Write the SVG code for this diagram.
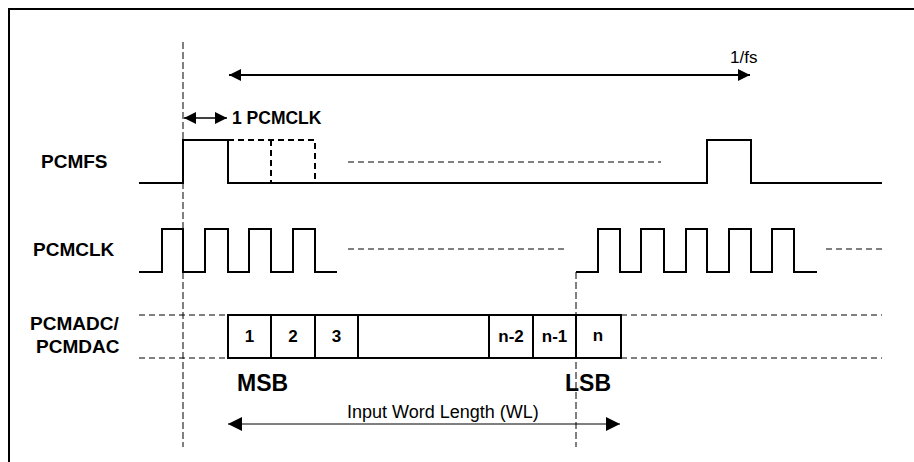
<svg xmlns="http://www.w3.org/2000/svg" width="914" height="462" viewBox="0 0 914 462">
<defs>
<style>
.sig{fill:none;stroke:#000;stroke-width:2;stroke-linejoin:miter}
.dash{fill:none;stroke:#000;stroke-width:1;stroke-dasharray:6,4}
.vdash{fill:none;stroke:#000;stroke-width:1;stroke-dasharray:7,3}
.pdash{fill:none;stroke:#000;stroke-width:2;stroke-dasharray:6,4}
.lbl{font-family:"Liberation Sans",Arial,sans-serif;font-weight:bold;fill:#000}
.reg{font-family:"Liberation Sans",Arial,sans-serif;fill:#000}
.box{fill:#fff;stroke:#000;stroke-width:2}
</style>
<marker id="ah" viewBox="0 0 10 10" refX="10" refY="5" markerWidth="14" markerHeight="12" markerUnits="userSpaceOnUse" orient="auto-start-reverse">
<path d="M0,0 L10,5 L0,10 z" fill="#000"/>
</marker>
<marker id="ahb" viewBox="0 0 10 10" refX="10" refY="5" markerWidth="16" markerHeight="14" markerUnits="userSpaceOnUse" orient="auto-start-reverse">
<path d="M0,0 L10,5 L0,10 z" fill="#000"/>
</marker>
</defs>
<rect x="0" y="0" width="914" height="462" fill="#fff"/>
<rect x="9" y="9" width="920" height="470" fill="none" stroke="#000" stroke-width="2"/>

<g id="labels">
<text class="lbl" x="41" y="168" font-size="19">PCMFS</text>
<text class="lbl" x="33" y="256" font-size="19">PCMCLK</text>
<text class="lbl" x="30" y="330" font-size="19">PCMADC/</text>
<text class="lbl" x="36" y="353" font-size="19">PCMDAC</text>
</g>

<g id="pcmfs">
<path class="sig" d="M139,183 H183 V140 H228 V183 H707 V140 H751 V183 H882"/>
<path class="pdash" d="M228,140 H315 V183 M271,140 V183"/>
<line class="dash" x1="348" y1="162" x2="661" y2="162"/>
</g>

<g id="pcmclk">
<path class="sig" d="M139,272 H162 V229 H183 V272 H205 V229 H228 V272 H249 V229 H271 V272 H293 V229 H315 V272 H337"/>
<line class="dash" x1="348" y1="249" x2="564" y2="249"/>
<path class="sig" d="M576,272 H598 V229 H620 V272 H641 V229 H664 V272 H686 V229 H707 V272 H729 V229 H751 V272 H772 V229 H794 V272 H817"/>
<line class="dash" x1="826" y1="249" x2="882" y2="249"/>
</g>

<g id="pcmadc">
<line class="dash" x1="139" y1="315" x2="228" y2="315"/>
<line class="dash" x1="139" y1="358" x2="228" y2="358"/>
<rect class="box" x="228" y="315" width="43" height="43"/>
<rect class="box" x="271" y="315" width="44" height="43"/>
<rect class="box" x="315" y="315" width="43" height="43"/>
<rect class="box" x="358" y="315" width="131" height="43"/>
<rect class="box" x="489" y="315" width="44" height="43"/>
<rect class="box" x="533" y="315" width="43" height="43"/>
<rect class="box" x="576" y="315" width="45" height="43"/>
<line class="dash" x1="621" y1="315" x2="882" y2="315"/>
<line class="dash" x1="621" y1="358" x2="882" y2="358"/>
<text class="lbl" x="249.5" y="342" font-size="17" text-anchor="middle">1</text>
<text class="lbl" x="293" y="342" font-size="17" text-anchor="middle">2</text>
<text class="lbl" x="336.5" y="342" font-size="17" text-anchor="middle">3</text>
<text class="lbl" x="511" y="342" font-size="17" text-anchor="middle">n-2</text>
<text class="lbl" x="554.5" y="342" font-size="17" text-anchor="middle">n-1</text>
<text class="lbl" x="598" y="341" font-size="17" text-anchor="middle">n</text>
<text class="lbl" x="237" y="391" font-size="23">MSB</text>
<text class="lbl" x="565" y="391" font-size="23">LSB</text>
</g>

<g id="connectors">
<line class="vdash" x1="183" y1="42" x2="183" y2="447"/>
<line class="vdash" x1="576" y1="272" x2="576" y2="447"/>
<line x1="229" y1="75" x2="750" y2="75" stroke="#000" stroke-width="2" marker-start="url(#ah)" marker-end="url(#ah)"/>
<line x1="184" y1="118" x2="227" y2="118" stroke="#000" stroke-width="1.5" marker-start="url(#ah)" marker-end="url(#ah)"/>
<line x1="228" y1="424" x2="620" y2="424" stroke="#000" stroke-width="1" marker-start="url(#ahb)" marker-end="url(#ahb)"/>
</g>

<g id="texts">
<text class="reg" x="730" y="63" font-size="17">1/fs</text>
<text class="lbl" x="232" y="124" font-size="17.5">1 PCMCLK</text>
<text class="reg" x="347" y="418" font-size="18">Input Word Length (WL)</text>
</g>
</svg>
